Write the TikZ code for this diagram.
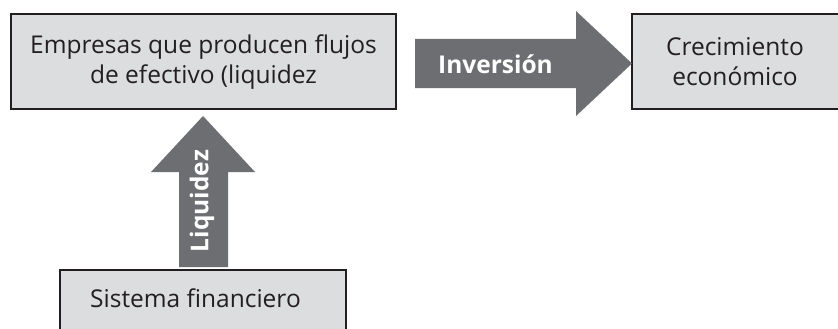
\documentclass[tikz,border=0pt]{standalone}
\usepackage{fontspec}
\setmainfont{Open Sans}
\definecolor{boxfill}{HTML}{DCDDDF}
\definecolor{boxline}{HTML}{231F20}
\definecolor{arrowgray}{HTML}{6D6E71}
\tikzset{
  box/.style={draw=boxline, fill=boxfill, line width=2pt},
  bigarrow/.style={fill=arrowgray, draw=none},
  boxtext/.style={font=\fontsize{24.5}{30}\selectfont, text=boxline, align=center, inner sep=0pt},
  arrowtext/.style={font=\fontsize{24.5}{28}\selectfont\bfseries, text=white, inner sep=0pt}
}
\begin{document}
\begin{tikzpicture}[x=1pt,y=-1pt]
\useasboundingbox (0,0) rectangle (838,329);
\clip (0,0) rectangle (838,329);
% boxes
\draw[box] (11,14) rectangle (396,109);
\draw[box] (632,14) rectangle (845,109);
\draw[box] (60,270) rectangle (346,340);
% box texts
\node[boxtext] (emp) at (203.5,62) {Empresas que producen flujos\\de efectivo (liquidez};
\node[boxtext] (crec) at (735,62) {Crecimiento\\económico};
\node[boxtext, anchor=base] (sis) at (195.5,307) {Sistema financiero};
% Inversión arrow
\fill[bigarrow] (415,39) -- (576,39) -- (576,11) -- (632,63.5) -- (576,116) -- (576,88) -- (415,88) -- cycle;
\node[arrowtext] (inv) at (495.5,64) {Inversión};
% Liquidez arrow
\fill[bigarrow] (179,267) -- (179,172) -- (151,172) -- (203,116) -- (255,172) -- (228,172) -- (228,267) -- cycle;
\node[arrowtext, rotate=90] (liq) at (202,201) {Liquidez};
\end{tikzpicture}
\end{document}
